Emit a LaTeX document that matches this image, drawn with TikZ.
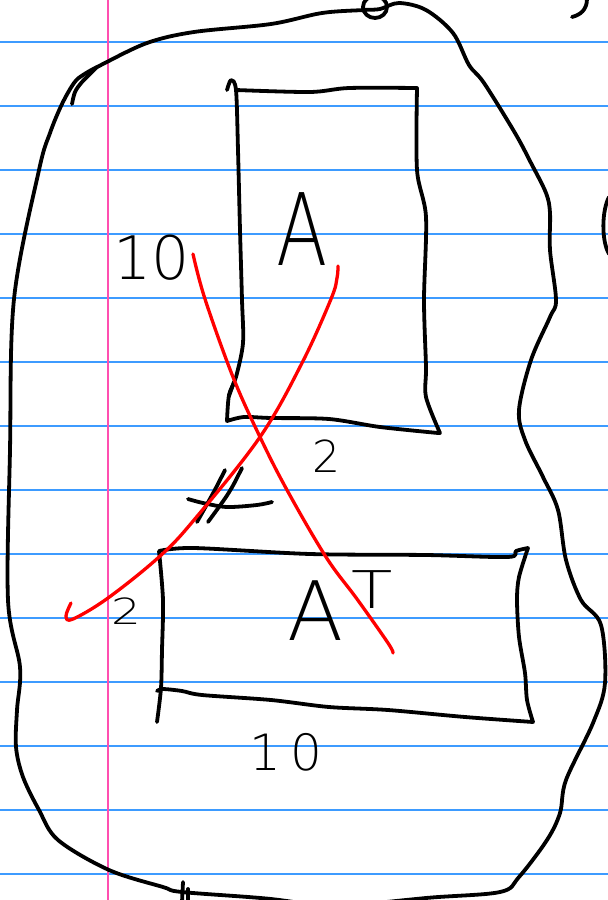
\documentclass[tikz,border=0pt]{standalone}
\usepackage{fontspec}
\newfontfamily\hand{DejaVuSans-ExtraLight.ttf}
\definecolor{ruleblue}{HTML}{3D9BFF}
\definecolor{marginpink}{HTML}{FF4FB0}
\begin{document}
\begin{tikzpicture}[x=1pt,y=-1pt,
  ink/.style={line width=3.8pt, line cap=round, line join=round, black},
  redink/.style={line width=3.3pt, line cap=round, line join=round, red},
  rule/.style={line width=1.4pt, ruleblue},
  lbl/.style={inner sep=0pt, anchor=base, font=\hand}]
\fill[white] (0,0) rectangle (608,900);
\useasboundingbox (0,0) rectangle (608,900);
% ruled paper
\foreach \yy in {42,106,...,874} \draw[rule] (0,\yy) -- (608,\yy);
\draw[line width=1.4pt, marginpink] (108,0) -- (108,900);
% outer blob
\draw[ink] plot[smooth, tension=0.55] coordinates {(330,908) (426,898) (500,892) (519,877) (547,840) (560,813) (566,780) (593,723) (605,683) (601,625) (581,600) (566,560) (558,510) (543,477) (525,440) (519,410) (531,360) (550,317) (556,300) (550,250) (550,213) (546,193) (531,163) (515,133) (484,83) (469,65) (453,33) (426,10) (399,3) (380,9) (364,10) (322,13) (271,24) (194,32) (147,43) (101,65) (83,75) (74,83) (62,104) (50,133) (39,170) (14,299) (10,450) (8,600) (20,667) (17,710) (16,747) (23,777) (39,810) (58,840) (109,870) (163,887) (182,892) (271,899) (330,908)};
\draw[ink] plot[smooth] coordinates {(72,104) (75,92) (82,82) (97,67)};
\draw[ink] (375,7) ellipse [x radius=12, y radius=11];
\draw[ink] (587,-1) .. controls (587,10) and (580,15) .. (572,17);
\draw[ink] (609,197) .. controls (602,210) and (601,240) .. (609,254);
\draw[ink] (183,882) -- (182,902);
\draw[ink] (188,889) -- (188,902);
% upper rectangle A
\draw[ink] plot[smooth, tension=0.5] coordinates {(227,90) (231,80) (236,90) (238,150) (240,230) (242,300) (243,343) (236,377) (229,395) (227,421)}
  -- plot[smooth, tension=0.5] coordinates {(227,421) (244,417) (271,418) (329,419) (380,427) (438,433)}
  -- plot[smooth, tension=0.5] coordinates {(440,433) (426,397) (426,367) (424,300) (426,217) (417,170) (417,88)}
  -- plot[smooth, tension=0.5] coordinates {(417,88) (349,88) (310,92) (236,90)};
\draw[ink] (234,382) -- (229,396);
% lower rectangle A^T
\draw[ink] plot[smooth, tension=0.5] coordinates {(157,722) (161,688) (162,650) (163,600) (159,551)}
  -- plot[smooth, tension=0.5] coordinates {(159,551) (194,548) (310,554) (426,555) (508,557) (516,551) (528,548)}
  -- plot[smooth, tension=0.5] coordinates {(528,548) (519,577) (517,600) (519,637) (525,673) (527,700) (533,722)}
  -- plot[smooth, tension=0.5] coordinates {(533,722) (465,717) (388,710) (329,707) (271,700) (202,695) (182,691) (163,689) (157,691)};
% labels
\node[lbl, xscale=0.75] (la) at (302,265) {\fontsize{100}{100}\selectfont A};
\node[lbl] (lten1) at (152,279) {\fontsize{60}{60}\selectfont 10};
\node[lbl] (ltwo1) at (326,472) {\fontsize{44}{44}\selectfont 2};
\node[lbl, xscale=1.3] (ltwo2) at (126,624) {\fontsize{36}{36}\selectfont 2};
\node[lbl, anchor=base west] (lat) at (287,640) {\fontsize{82}{82}\selectfont A\hspace{8pt}\raisebox{32pt}{\scalebox{1.3}[1]{\fontsize{52}{52}\selectfont T}}};
\node[lbl] (lten2) at (286,770) {\fontsize{50}{50}\selectfont 1\hspace{10pt}0};
% not-equal mark
\draw[ink] plot[smooth] coordinates {(188,499) (203,503) (227,507) (257,505) (272,502)};
\draw[ink] (225,470) .. controls (215,490) .. (197,522);
\draw[ink] (242,468) .. controls (230,492) .. (208,522);
% red cross
\draw[redink] plot[smooth, tension=0.6] coordinates {(193,254) (205,299) (233,377) (260,437) (287,490) (326,557) (357,599) (388,643) (393,653)};
\draw[redink] plot[smooth, tension=0.6] coordinates {(338,266) (337,278) (331,299) (302,363) (260,437) (194,520) (159,557) (108,598) (73,619) (66,616) (71,603)};
\end{tikzpicture}
\end{document}
